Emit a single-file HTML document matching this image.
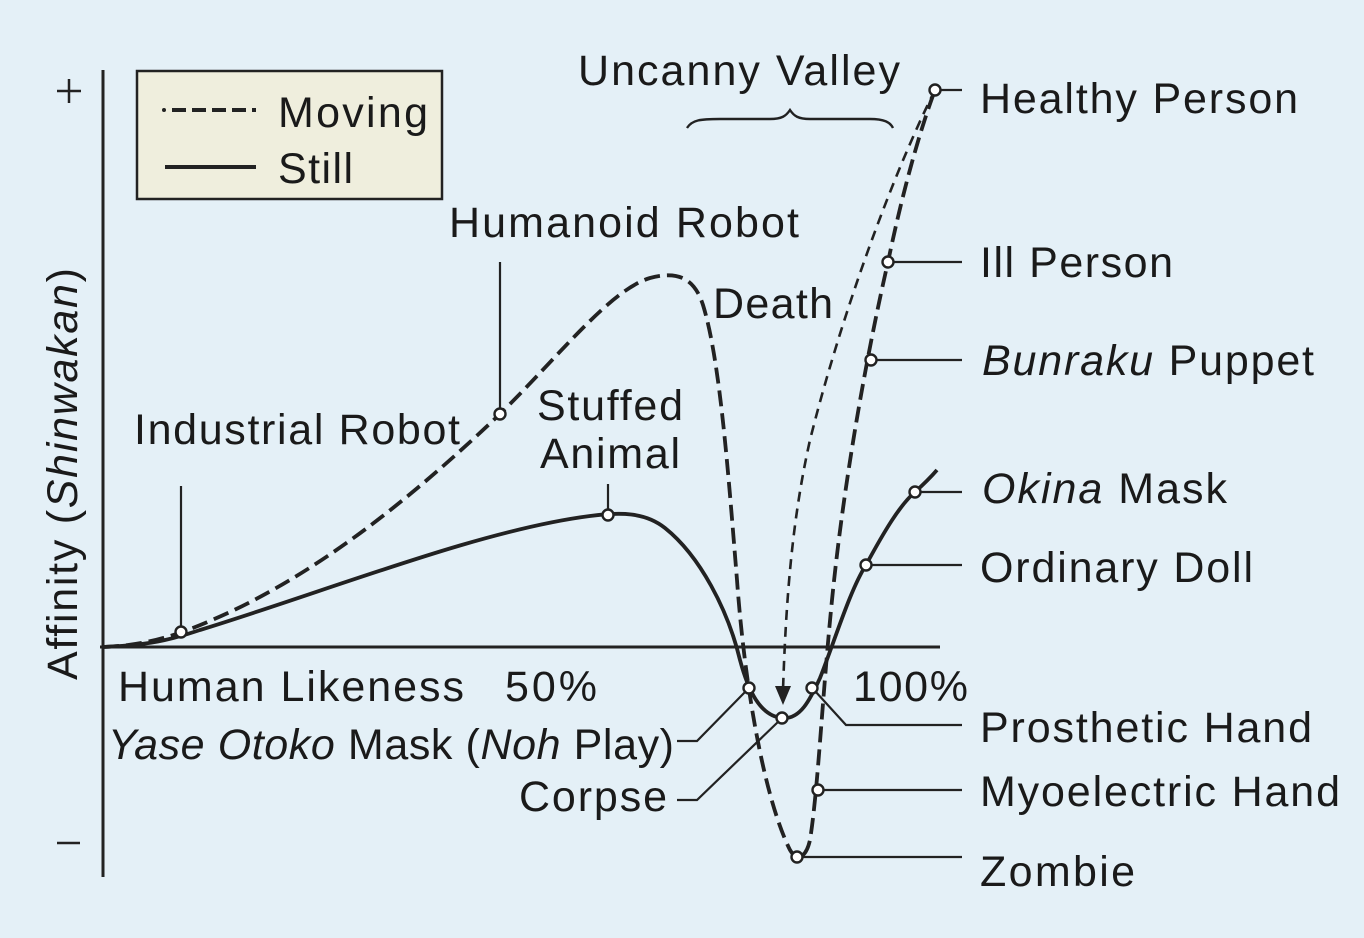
<!DOCTYPE html>
<html><head><meta charset="utf-8"><style>
html,body{margin:0;padding:0;background:#e4f0f7;}
svg{display:block;}
text{font-family:"Liberation Sans",Arial,sans-serif;font-size:43px;fill:#1a1a1a;}
</style></head><body>
<svg width="1364" height="938" viewBox="0 0 1364 938" xmlns="http://www.w3.org/2000/svg">
<rect width="1364" height="938" fill="#e4f0f7"/>
<!-- axes -->
<line x1="103" y1="70" x2="103" y2="877" stroke="#222" stroke-width="3"/>
<line x1="100" y1="647" x2="940" y2="647" stroke="#222" stroke-width="3"/>
<line x1="57" y1="91" x2="81" y2="91" stroke="#222" stroke-width="2.5"/>
<line x1="69" y1="79" x2="69" y2="103" stroke="#222" stroke-width="2.5"/>
<line x1="57" y1="843" x2="80" y2="843" stroke="#222" stroke-width="2.5"/>
<!-- legend -->
<rect x="137" y="71" width="305" height="128" fill="#efeedd" stroke="#222" stroke-width="2.5"/>
<circle cx="164" cy="110" r="2" fill="#222"/>
<line x1="172" y1="110" x2="256" y2="110" stroke="#222" stroke-width="4" stroke-dasharray="14,6"/>
<line x1="165" y1="167" x2="256" y2="167" stroke="#222" stroke-width="4"/>
<text x="278" y="127" textLength="150">Moving</text>
<text x="278" y="183" textLength="75">Still</text>
<!-- brace -->
<path d="M687,128 C692,120 700,119 720,119 L770,119 C782,119 786,116 790,110 C794,116 798,119 810,119 L870,119 C884,119 890,122 893,128" fill="none" stroke="#222" stroke-width="2.4"/>
<!-- death dotted arrow -->
<path d="M935,90 C890,180 840,320 810,440 C792,520 786,600 783,690" fill="none" stroke="#222" stroke-width="2.6" stroke-dasharray="10,7"/>
<path d="M775,686 L791,686 L783,705 Z" fill="#222"/>
<!-- moving curve -->
<path d="M103,647 C150,645 180,635 230,612 C330,565 420,490 500,414 C560,355 610,290 650,278 C680,270 695,280 703,305 C720,360 728,470 737,580 C745,690 765,800 790,850 C797,862 806,858 810,840 C818,790 822,700 832,600 C845,470 870,340 888,262 C903,190 920,130 935,90" fill="none" stroke="#222" stroke-width="3.8" stroke-dasharray="16,7"/>
<!-- still curve -->
<path d="M103,647 C150,645 170,640 200,630 C330,590 480,530 590,516 C620,512 645,512 665,528 C700,556 728,610 740,660 C748,690 760,716 782,718 C800,720 810,700 820,678 C835,640 850,590 866,565 C885,530 900,505 915,492 C925,483 930,478 937,470" fill="none" stroke="#222" stroke-width="3.8"/>
<!-- leaders -->
<g stroke="#222" stroke-width="2.2" fill="none">
<line x1="181" y1="486" x2="181" y2="628"/>
<line x1="500" y1="262" x2="500" y2="410"/>
<line x1="608" y1="484" x2="608" y2="511"/>
<line x1="939" y1="90" x2="962" y2="90"/>
<line x1="892" y1="262" x2="962" y2="262"/>
<line x1="875" y1="360" x2="962" y2="360"/>
<line x1="919" y1="492" x2="962" y2="492"/>
<line x1="870" y1="565" x2="962" y2="565"/>
<polyline points="815,691 846,725 962,725"/>
<line x1="822" y1="790" x2="962" y2="790"/>
<line x1="801" y1="857" x2="962" y2="857"/>
<polyline points="677,741 697,741 746,691"/>
<polyline points="677,800 697,800 779,721"/>
</g>
<!-- markers -->
<g fill="#fff" stroke="#222" stroke-width="2.4">
<circle cx="181" cy="632" r="5.5"/>
<circle cx="500" cy="414" r="5.5"/>
<circle cx="608" cy="515" r="5.5"/>
<circle cx="935" cy="90" r="5.5"/>
<circle cx="888" cy="262" r="5.5"/>
<circle cx="871" cy="360" r="5.5"/>
<circle cx="915" cy="492" r="5.5"/>
<circle cx="866" cy="565" r="5.5"/>
<circle cx="749" cy="688" r="5.5"/>
<circle cx="782" cy="718" r="5.5"/>
<circle cx="812" cy="688" r="5.5"/>
<circle cx="818" cy="790" r="5.5"/>
<circle cx="797" cy="857" r="5.5"/>
</g>
<!-- labels -->
<text x="578" y="85" textLength="322">Uncanny Valley</text>
<text x="980" y="113" textLength="318">Healthy Person</text>
<text x="449" y="237" textLength="350">Humanoid Robot</text>
<text x="713" y="318" textLength="120">Death</text>
<text x="980" y="277" textLength="193">Ill Person</text>
<text x="982" y="375" textLength="332"><tspan font-style="italic">Bunraku</tspan> Puppet</text>
<text x="537" y="420" textLength="146">Stuffed</text>
<text x="540" y="468" textLength="140">Animal</text>
<text x="134" y="444" textLength="326">Industrial Robot</text>
<text x="982" y="503" textLength="245"><tspan font-style="italic">Okina</tspan> Mask</text>
<text x="980" y="582" textLength="273">Ordinary Doll</text>
<text x="118" y="701" textLength="346">Human Likeness</text>
<text x="505" y="701" textLength="92">50%</text>
<text x="853" y="701" textLength="115">100%</text>
<text x="108" y="759" textLength="566"><tspan font-style="italic">Yase Otoko</tspan> Mask (<tspan font-style="italic">Noh</tspan> Play)</text>
<text x="519" y="811" textLength="148">Corpse</text>
<text x="980" y="742" textLength="332">Prosthetic Hand</text>
<text x="980" y="806" textLength="360">Myoelectric Hand</text>
<text x="980" y="886" textLength="155">Zombie</text>
<text transform="translate(77,680) rotate(-90)" textLength="412">Affinity (<tspan font-style="italic">Shinwakan</tspan>)</text>
</svg>
</body></html>
